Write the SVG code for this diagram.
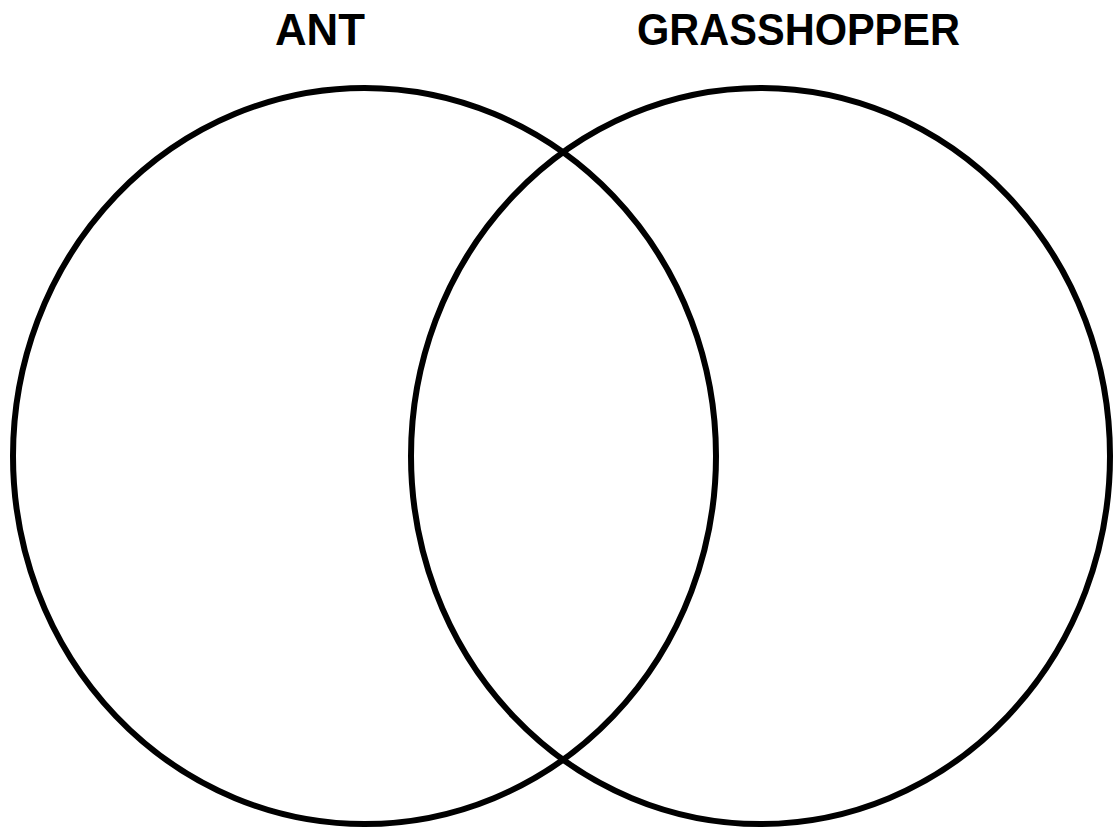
<svg xmlns="http://www.w3.org/2000/svg" width="1114" height="829" viewBox="0 0 1114 829">
<style>
.ring{fill:none;stroke:#000;stroke-width:6}
.lbl{font-family:"Liberation Sans",Arial,sans-serif;font-weight:bold;font-size:45px;fill:#000;text-anchor:middle}
</style>
<rect width="1114" height="829" fill="#fff"/>
<g id="ant">
<ellipse class="ring" cx="364.5" cy="456" rx="351.5" ry="368"/>
<text class="lbl" x="320" y="45" textLength="90" lengthAdjust="spacingAndGlyphs">ANT</text>
</g>
<g id="grasshopper">
<ellipse class="ring" cx="760.5" cy="456" rx="349.5" ry="368"/>
<text class="lbl" x="798.5" y="45" textLength="323" lengthAdjust="spacingAndGlyphs">GRASSHOPPER</text>
</g>
<g id="connectors"></g>
</svg>
